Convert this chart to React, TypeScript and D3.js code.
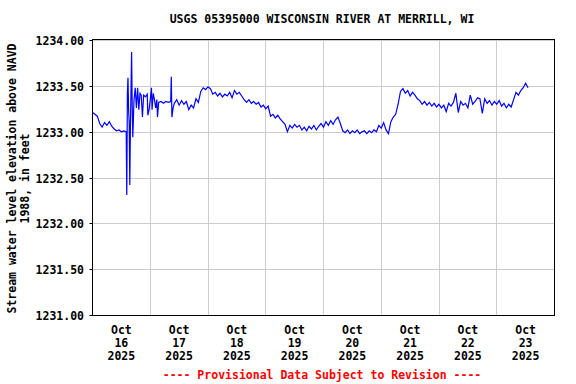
import React from "react";
import * as d3 from "d3";

const TITLE = "USGS 05395000 WISCONSIN RIVER AT MERRILL, WI";
const Y_TITLE_1 = "Stream water level elevation above NAVD";
const Y_TITLE_2 = "1988, in feet";
const FOOTER = "---- Provisional Data Subject to Revision ----";

const yTicks = [1231.0, 1231.5, 1232.0, 1232.5, 1233.0, 1233.5, 1234.0];
const dayLabels = ["16", "17", "18", "19", "20", "21", "22", "23"];
const monthLabel = "Oct";
const yearLabel = "2025";

// Hourly levels, hours 0..13 after Oct 16 00:00
const levelsA = [
  1233.22, 1233.2, 1233.18, 1233.1, 1233.06, 1233.11, 1233.08, 1233.12, 1233.07,
  1233.04, 1233.02, 1233.03, 1233.01, 1233.02,
];

// Fine-resolution burst (hours after Oct 16 00:00)
const burstHours = [
  14.0, 14.25, 14.5, 14.75, 15.0, 15.25, 15.5, 15.75, 16.25, 16.5, 16.75, 17.25,
  17.75, 18.25, 18.75, 19.25, 19.75, 20.25, 20.75, 21.25, 22.0, 22.75, 23.0, 23.5,
  24.0, 24.5, 24.75, 25.25, 25.75, 26.25, 26.75, 27.0, 27.5, 28.5, 29.5, 30.5, 31.5,
  32.5, 32.75, 33.0, 33.5,
];
const burstLevels = [
  1233.01, 1232.32, 1233.43, 1233.6, 1233.25, 1233.12, 1232.43, 1233.05, 1233.88,
  1233.3, 1232.95, 1233.36, 1233.49, 1233.27, 1233.49, 1233.25, 1233.43, 1233.41,
  1233.17, 1233.41, 1233.39, 1233.42, 1233.19, 1233.25, 1233.36, 1233.49, 1233.25,
  1233.43, 1233.36, 1233.27, 1233.36, 1233.17, 1233.33, 1233.34, 1233.32, 1233.34,
  1233.33, 1233.34, 1233.61, 1233.17, 1233.27,
];

// Hourly levels, hours 34..181
const levelsB = [
  1233.32, 1233.36, 1233.3, 1233.35, 1233.31, 1233.34, 1233.25, 1233.3, 1233.27, 1233.37,
  1233.33, 1233.45, 1233.49, 1233.47, 1233.5, 1233.48, 1233.42, 1233.44, 1233.4, 1233.43,
  1233.39, 1233.42, 1233.4, 1233.44, 1233.38, 1233.46, 1233.42, 1233.44, 1233.4, 1233.36,
  1233.33, 1233.36, 1233.32, 1233.34, 1233.31, 1233.33, 1233.28, 1233.3, 1233.26, 1233.29,
  1233.18, 1233.2, 1233.16, 1233.19, 1233.15, 1233.12, 1233.09, 1233.01, 1233.08, 1233.05,
  1233.09, 1233.06, 1233.08, 1233.03, 1233.06, 1233.02, 1233.07, 1233.04, 1233.08, 1233.03,
  1233.07, 1233.1, 1233.06, 1233.12, 1233.08, 1233.13, 1233.09, 1233.14, 1233.17, 1233.1,
  1233.02, 1233.0, 1233.03, 1232.99, 1233.02, 1233.0, 1233.03, 1232.99, 1233.01, 1233.02,
  1232.99, 1233.02, 1233.0, 1233.03, 1233.01, 1233.08, 1233.05, 1233.11, 1233.03, 1232.99,
  1233.12, 1233.17, 1233.2, 1233.31, 1233.45, 1233.48, 1233.43, 1233.46, 1233.4, 1233.44,
  1233.41, 1233.37, 1233.35, 1233.31, 1233.34, 1233.3, 1233.33, 1233.29, 1233.32, 1233.28,
  1233.31, 1233.27, 1233.3, 1233.23, 1233.32, 1233.29, 1233.33, 1233.43, 1233.22, 1233.34,
  1233.3, 1233.32, 1233.27, 1233.41, 1233.31, 1233.34, 1233.38, 1233.37, 1233.21, 1233.37,
  1233.32, 1233.35, 1233.3, 1233.34, 1233.31, 1233.35, 1233.29, 1233.32, 1233.27, 1233.31,
  1233.28, 1233.36, 1233.44, 1233.41, 1233.46, 1233.49, 1233.54, 1233.49,
];
const levelsAStart = 0;
const levelsBStart = 34;

const W = 576;
const H = 384;
const M = { left: 92.5, right: 554.5, top: 41, bottom: 316 };
const FONT = "'DejaVu Sans Mono', monospace";

export default function App() {
  const t0 = new Date(2025, 9, 16, 0, 0);
  const t1 = new Date(2025, 9, 24, 0, 0);
  const hr = (h: number) => new Date(t0.getTime() + h * 3600 * 1000);

  const pts: { t: Date; v: number }[] = [];
  levelsA.forEach((v, i) => pts.push({ t: hr(levelsAStart + i), v }));
  burstHours.forEach((h, i) => pts.push({ t: hr(h), v: burstLevels[i] }));
  levelsB.forEach((v, i) => pts.push({ t: hr(levelsBStart + i), v }));
  pts.sort((a, b) => a.t.getTime() - b.t.getTime());

  const x = d3.scaleTime().domain([t0, t1]).range([M.left, M.right]);
  const y = d3.scaleLinear().domain([1231, 1234]).range([M.bottom, M.top]);
  const line = d3
    .line<{ t: Date; v: number }>()
    .x((d) => x(d.t))
    .y((d) => y(d.v));

  const midnights = d3.timeDay.range(t0, t1).concat([t1]);
  const noons = dayLabels.map((_, i) => new Date(2025, 9, 16 + i, 12, 0));

  const txt = {
    fontFamily: FONT,
    fontWeight: "bold" as const,
    fontSize: 11.5,
  };

  return (
    <svg
      width={W}
      height={H}
      style={{ position: "absolute", left: 0, top: 0, background: "#fff" }}
    >
      <rect x={0} y={0} width={W} height={H} fill="#fff" />
      {/* gridlines */}
      {yTicks.map((t) => (
        <line
          key={"gy" + t}
          x1={M.left}
          x2={M.right}
          y1={Math.round(y(t)) - 0.5}
          y2={Math.round(y(t)) - 0.5}
          stroke="#cccccc"
          strokeWidth={1}
        />
      ))}
      {midnights.map((d, i) => (
        <line
          key={"gx" + i}
          x1={Math.floor(x(d)) + 0.5}
          x2={Math.floor(x(d)) + 0.5}
          y1={M.top}
          y2={M.bottom}
          stroke="#cccccc"
          strokeWidth={1}
        />
      ))}
      {/* data */}
      <path d={line(pts) || ""} fill="none" stroke="#0000ff" strokeWidth={1.2} />
      {/* frame */}
      <rect
        x={M.left}
        y={M.top - 1.5}
        width={M.right - M.left}
        height={M.bottom - M.top + 1}
        fill="none"
        stroke="#000"
        strokeWidth={1}
      />
      {/* y ticks and labels */}
      {yTicks.map((t) => (
        <g key={"ty" + t}>
          <line
            x1={M.left - 3}
            x2={M.left}
            y1={Math.round(y(t)) - 0.5}
            y2={Math.round(y(t)) - 0.5}
            stroke="#000"
          />
          <text x={84} y={y(t) + 4} textAnchor="end" fill="#000" {...txt}>
            {t.toFixed(2)}
          </text>
        </g>
      ))}
      {/* x labels */}
      {noons.map((d, i) => (
        <text key={"tx" + i} x={x(d)} textAnchor="middle" fill="#000" {...txt}>
          <tspan x={x(d)} y={334}>
            {monthLabel}
          </tspan>
          <tspan x={x(d)} y={347}>
            {dayLabels[i]}
          </tspan>
          <tspan x={x(d)} y={360}>
            {yearLabel}
          </tspan>
        </text>
      ))}
      {/* title */}
      <text x={322} y={23} textAnchor="middle" fill="#000" {...txt}>
        {TITLE}
      </text>
      {/* y axis title */}
      <g transform={`translate(0, ${(M.top + M.bottom) / 2}) rotate(-90)`}>
        <text x={0} y={16} textAnchor="middle" fill="#000" {...txt}>
          {Y_TITLE_1}
        </text>
        <text x={0} y={29} textAnchor="middle" fill="#000" {...txt}>
          {Y_TITLE_2}
        </text>
      </g>
      {/* footer */}
      <text x={322} y={379} textAnchor="middle" fill="#ff0000" {...txt}>
        {FOOTER}
      </text>
    </svg>
  );
}
